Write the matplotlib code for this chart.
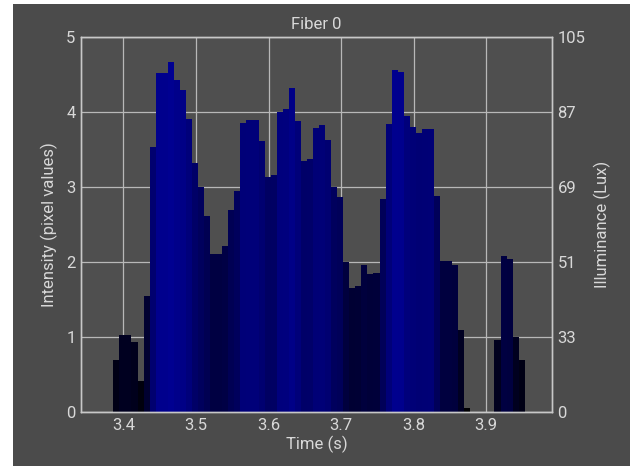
import matplotlib as mpl
import numpy as np
from matplotlib import pyplot as plt

# frame timing of the recording
start_time = 3.3904
frame_rate = 120.0

# mean intensity per frame (pixel values)
intensity = [
    0.69, 1.03, 1.03, 0.93, 0.42, 1.55, 3.54, 4.52, 4.52, 4.67,
    4.43, 4.29, 3.91, 3.32, 3.00, 2.62, 2.11, 2.11, 2.21, 2.70,
    2.95, 3.86, 3.90, 3.90, 3.61, 3.14, 3.16, 4.00, 4.04, 4.32,
    3.88, 3.35, 3.37, 3.79, 3.83, 3.63, 3.00, 2.87, 2.00, 1.66,
    1.68, 1.96, 1.84, 1.85, 2.84, 3.84, 4.56, 4.53, 3.95, 3.80,
    3.72, 3.77, 3.78, 2.88, 2.02, 2.01, 1.96, 1.09, 0.06, 0.0,
    0.0, 0.0, 0.0, 0.96, 2.08, 2.04, 1.00, 0.69,
]

y_ticks = [0, 1, 2, 3, 4, 5]
lux_labels = ["0", "33", "51", "69", "87", "105"]
x_ticks = [3.4, 3.5, 3.6, 3.7, 3.8, 3.9]

bg = "#4b4b4b"
fg = "#d8d8d8"
fs = 12
plt.rcParams["font.family"] = ["Roboto", "DejaVu Sans"]

frames = np.arange(len(intensity))
t = start_time + frames / frame_rate
vals = np.array(intensity)

cmap = mpl.colors.LinearSegmentedColormap.from_list("fiber", [(0, 0, 0.0), (0, 0, 0.57)])
norm = mpl.colors.Normalize(0, vals.max())

fig = plt.figure(figsize=(6.3, 4.66), dpi=100, facecolor="white")
fig.patches.append(mpl.patches.Rectangle((13 / 630, 0), 1, 462 / 466, transform=fig.transFigure,
                                         facecolor=bg, edgecolor="none", zorder=-1))
ax = fig.add_axes([81 / 630, 1 - 412 / 466, (552 - 81) / 630, (412 - 37) / 466])
ax.set_facecolor("#4f4f4f")
ax.bar(t, vals, width=1 / frame_rate, color=cmap(norm(vals)), linewidth=0)

ax.set_xlim(3.3417, 3.9905)
ax.set_ylim(0, 5)
ax.set_xticks(x_ticks)
ax.set_yticks(y_ticks)
ax.grid(True, color="#b8b8b8", linewidth=0.9)
ax.set_axisbelow(True)
ax.set_title("Fiber 0", color=fg, fontsize=fs, pad=6)
ax.set_xlabel("Time (s)", color=fg, fontsize=fs, labelpad=2)
ax.set_ylabel("Intensity (pixel values)", color=fg, fontsize=fs, labelpad=6)
ax.tick_params(colors=fg, labelsize=fs, length=0, pad=4)

ax2 = ax.twinx()
ax2.set_ylim(0, 5)
ax2.set_yticks(y_ticks)
ax2.set_yticklabels(lux_labels)
ax2.set_ylabel("Illuminance (Lux)", color=fg, fontsize=fs, labelpad=6)
ax2.tick_params(colors=fg, labelsize=fs, length=0, pad=4)

for a in (ax, ax2):
    for sp in a.spines.values():
        sp.set_color("#c8c8c8")
        sp.set_linewidth(1.0)

plt.savefig("out.png", dpi=100, facecolor=fig.get_facecolor())
